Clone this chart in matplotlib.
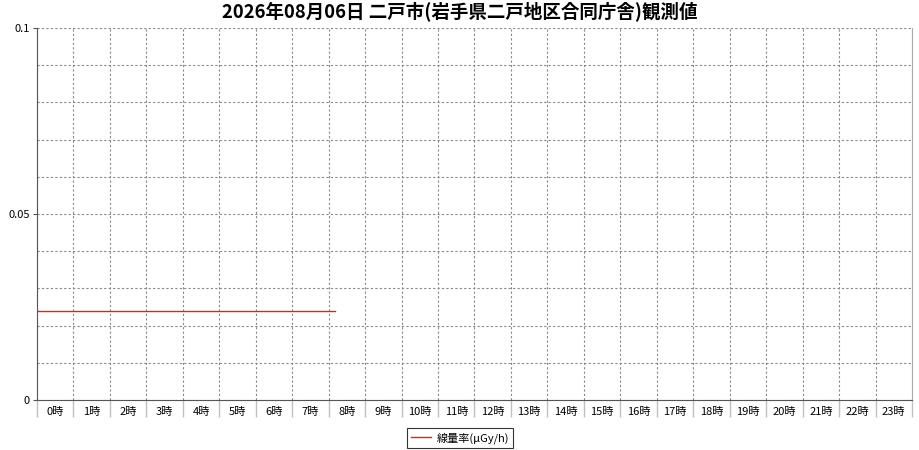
import matplotlib
matplotlib.use("Agg")
import matplotlib.pyplot as plt
from matplotlib.ticker import MultipleLocator, FixedLocator

plt.rcParams['font.family'] = ['Noto Sans CJK JP', 'DejaVu Sans']

# 10-minute readings for the day so far
times = ["00:00", "00:10", "00:20", "00:30", "00:40", "00:50",
         "01:00", "01:10", "01:20", "01:30", "01:40", "01:50",
         "02:00", "02:10", "02:20", "02:30", "02:40", "02:50",
         "03:00", "03:10", "03:20", "03:30", "03:40", "03:50",
         "04:00", "04:10", "04:20", "04:30", "04:40", "04:50",
         "05:00", "05:10", "05:20", "05:30", "05:40", "05:50",
         "06:00", "06:10", "06:20", "06:30", "06:40", "06:50",
         "07:00", "07:10", "07:20", "07:30", "07:40", "07:50",
         "08:00", "08:10"]
dose_rate = [0.024, 0.024, 0.024, 0.024, 0.024, 0.024,
             0.024, 0.024, 0.024, 0.024, 0.024, 0.024,
             0.024, 0.024, 0.024, 0.024, 0.024, 0.024,
             0.024, 0.024, 0.024, 0.024, 0.024, 0.024,
             0.024, 0.024, 0.024, 0.024, 0.024, 0.024,
             0.024, 0.024, 0.024, 0.024, 0.024, 0.024,
             0.024, 0.024, 0.024, 0.024, 0.024, 0.024,
             0.024, 0.024, 0.024, 0.024, 0.024, 0.024,
             0.024, 0.024]
hour_labels = [f"{h}時" for h in range(24)]
y_ticks = [0, 0.05, 0.1]
y_tick_labels = ["0", "0.05", "0.1"]

title = "2026年08月06日 二戸市(岩手県二戸地区合同庁舎)観測値"
series_name = "線量率(μGy/h)"

# convert hh:mm to fractional hours
x_hours = [int(t[:2]) + int(t[3:]) / 60 for t in times]

fig = plt.figure(figsize=(9.2, 4.5), dpi=100)
ax = fig.add_axes([37 / 920, 50 / 450, 875 / 920, 372 / 450])

ax.plot(x_hours, dose_rate, color="#ee2200", linewidth=1.0, label=series_name)

ax.set_xlim(0, 24)
ax.set_ylim(0, 0.1)

# grid: vertical at hour boundaries, horizontal every 0.01
ax.xaxis.set_major_locator(MultipleLocator(1))
ax.xaxis.set_minor_locator(FixedLocator([h + 0.5 for h in range(24)]))
ax.xaxis.set_major_formatter(plt.NullFormatter())
ax.xaxis.set_minor_formatter(plt.FixedFormatter(hour_labels))
ax.tick_params(axis="x", which="major", length=12, color="#c0c0c0", width=1)
ax.tick_params(axis="x", which="minor", length=0, labelsize=8, pad=5)

ax.yaxis.set_major_locator(FixedLocator(y_ticks))
ax.yaxis.set_major_formatter(plt.FixedFormatter(y_tick_labels))
ax.yaxis.set_minor_locator(MultipleLocator(0.01))
ax.tick_params(axis="y", which="major", length=3, color="#555555", labelsize=8, pad=2)
ax.tick_params(axis="y", which="minor", length=0)

grid_style = dict(linestyle=(0, (2, 2)), color="#888888", linewidth=0.8)
ax.grid(True, axis="x", which="major", **grid_style)
ax.grid(True, axis="y", which="both", **grid_style)
ax.set_axisbelow(True)

ax.spines["left"].set_color("#555555")
ax.spines["bottom"].set_color("#555555")
ax.spines["right"].set_color("#aaaaaa")
ax.spines["top"].set_visible(False)

fig.suptitle(title, fontsize=13.3, fontweight="bold", y=0.998, x=0.5)

leg = fig.legend(loc="center", bbox_to_anchor=(460 / 920, 1 - 438 / 450),
                 fontsize=8, frameon=True, fancybox=False, handlelength=1.8,
                 borderpad=0.4, handletextpad=0.5)
leg.get_frame().set_edgecolor("black")
leg.get_frame().set_linewidth(0.8)

fig.savefig("out.png", dpi=100)
